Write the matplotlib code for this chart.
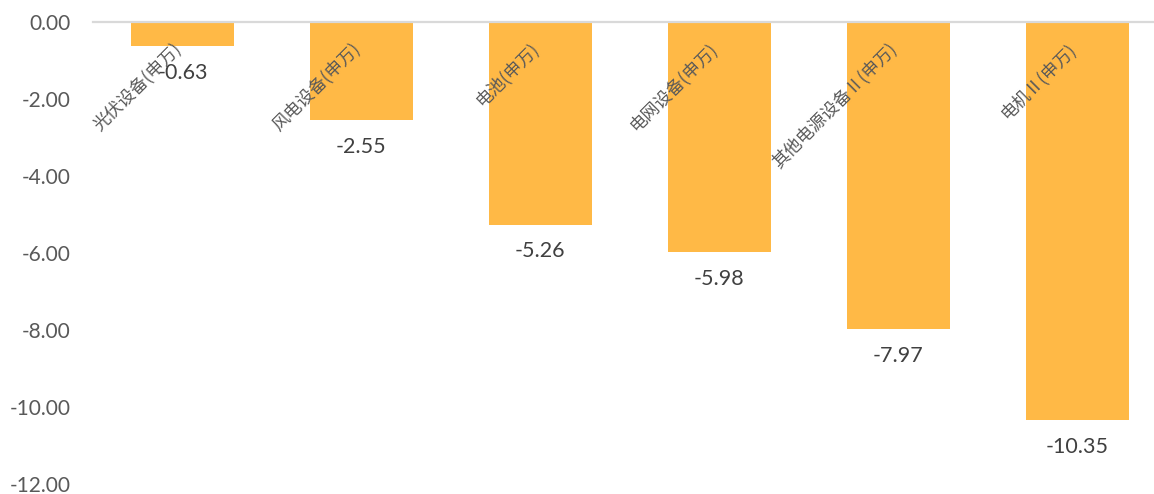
import matplotlib
matplotlib.use("Agg")
import matplotlib.pyplot as plt

plt.rcParams['font.family'] = ['Lato', 'Noto Sans CJK SC', 'DejaVu Sans']

categories = ["光伏设备(申万)", "风电设备(申万)", "电池(申万)",
              "电网设备(申万)", "其他电源设备Ⅱ(申万)", "电机Ⅱ(申万)"]
values = [-0.63, -2.55, -5.26, -5.98, -7.97, -10.35]
yticks = [0, -2, -4, -6, -8, -10, -12]

bar_color = "#FFB946"

fig = plt.figure(figsize=(11.54, 4.94), dpi=100)
ax = fig.add_axes([93 / 1154, 1 - 484 / 494, 1 - 93 / 1154, (484 - 22) / 494])

x = list(range(len(categories)))
ax.bar(x, values, width=0.575, color=bar_color, zorder=2)

ax.set_ylim(-12, 0)
ax.set_xlim(-0.5, len(categories) - 0.57)
ax.set_yticks(yticks)
ax.set_yticklabels([f"{v:.2f}" for v in yticks])
ax.tick_params(axis='y', length=0, pad=16, labelsize=15, labelcolor="#595959")
ax.set_xticks([])

for s in ["left", "right", "bottom"]:
    ax.spines[s].set_visible(False)
ax.spines["top"].set_color("#D9D9D9")
ax.spines["top"].set_linewidth(1.6)
ax.spines["top"].set_zorder(3)

# value labels under each bar
for xi, v in zip(x, values):
    ax.annotate(f"{v:.2f}", xy=(xi, v), xytext=(0, -12), textcoords="offset points",
                ha="center", va="top", fontsize=15.5, color="#404040")

# category labels drawn at the zero line, rotated
for xi, lab in zip(x, categories):
    ax.annotate(lab, xy=(xi, 0), xytext=(-3, -17), textcoords="offset points",
                ha="right", va="center", rotation=45, rotation_mode="anchor",
                fontsize=12.5, color="#595959",
                family=['Noto Sans CJK SC', 'DejaVu Sans'], fontweight="light",
                zorder=4)

fig.savefig("out.png", dpi=100)
